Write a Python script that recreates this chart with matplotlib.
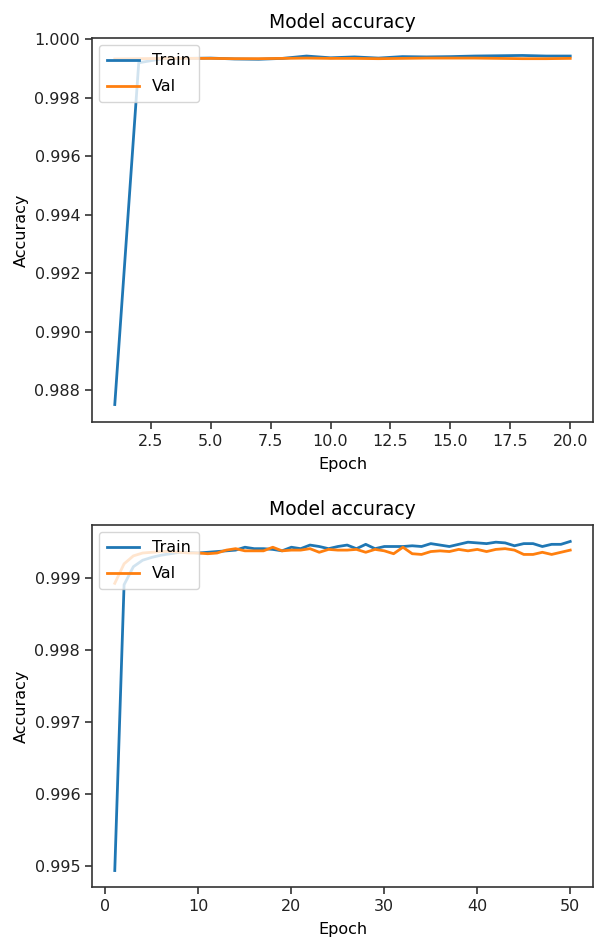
import matplotlib
matplotlib.use("Agg")
import matplotlib.pyplot as plt

# ---- data: run 1 (20 epochs) ----
epochs_a = list(range(1, 21))
train_a = [0.98752, 0.99920, 0.99934, 0.99935, 0.99936, 0.99933, 0.99932, 0.99935,
           0.99943, 0.99937, 0.99940, 0.99936, 0.99941, 0.99940, 0.99941, 0.99943,
           0.99944, 0.99945, 0.99943, 0.99943]
val_a = [0.99933, 0.99934, 0.99935, 0.99935, 0.99935, 0.99934, 0.99934, 0.99935,
         0.99936, 0.99935, 0.99935, 0.99934, 0.99935, 0.99936, 0.99936, 0.99936,
         0.99935, 0.99934, 0.99934, 0.99935]

# ---- data: run 2 (50 epochs) ----
epochs_b = list(range(1, 51))
train_b = [0.99494, 0.99890, 0.99915, 0.99924, 0.99928, 0.99931, 0.99933, 0.99935,
           0.99935, 0.99934, 0.99935, 0.99936, 0.99937, 0.99938, 0.99942, 0.99940,
           0.99940, 0.99939, 0.99937, 0.99942, 0.99940, 0.99945, 0.99943, 0.99940,
           0.99943, 0.99945, 0.99940, 0.99946, 0.99940, 0.99943, 0.99943, 0.99943,
           0.99944, 0.99943, 0.99947, 0.99945, 0.99943, 0.99946, 0.99949, 0.99948,
           0.99947, 0.99949, 0.99948, 0.99944, 0.99947, 0.99947, 0.99943, 0.99946,
           0.99946, 0.99950]
val_b = [0.99892, 0.99919, 0.99930, 0.99934, 0.99935, 0.99936, 0.99936, 0.99935,
         0.99934, 0.99934, 0.99933, 0.99934, 0.99938, 0.99940, 0.99937, 0.99937,
         0.99937, 0.99942, 0.99937, 0.99938, 0.99938, 0.99940, 0.99935, 0.99939,
         0.99938, 0.99938, 0.99939, 0.99935, 0.99939, 0.99937, 0.99933, 0.99942,
         0.99933, 0.99932, 0.99936, 0.99937, 0.99936, 0.99939, 0.99937, 0.99939,
         0.99936, 0.99939, 0.99940, 0.99938, 0.99932, 0.99932, 0.99935, 0.99932,
         0.99935, 0.99938]

title_text = "Model accuracy"
xlabel_text = "Epoch"
ylabel_text = "Accuracy"
legend_labels = ["Train", "Val"]

plt.rcParams['font.family'] = ['DejaVu Sans']

W, H = 597, 941
fig = plt.figure(figsize=(W / 100, H / 100), dpi=100)

ax1 = fig.add_axes([92 / W, 1 - 422 / H, 501 / W, 384 / H])
ax2 = fig.add_axes([92 / W, 1 - 887 / H, 501 / W, 362 / H])

for ax, ep, tr, va in [(ax1, epochs_a, train_a, val_a), (ax2, epochs_b, train_b, val_b)]:
    ax.plot(ep, tr, color='#1f77b4', lw=2.0, label=legend_labels[0])
    ax.plot(ep, va, color='#ff7f0e', lw=2.0, label=legend_labels[1])
    ax.set_title(title_text, fontsize=13.5, pad=7)
    ax.set_xlabel(xlabel_text, fontsize=11.5, labelpad=6)
    ax.set_ylabel(ylabel_text, fontsize=11.5, labelpad=4)
    ax.tick_params(labelsize=11.5, length=5, width=1.1, colors='#222222')
    for s in ax.spines.values():
        s.set_linewidth(1.2)
        s.set_color('#333333')
    leg = ax.legend(loc='upper left', fontsize=11.5, handlelength=2.0,
                    borderaxespad=0.45, borderpad=0.5, labelspacing=0.7,
                    framealpha=0.8)

ax1.set_yticks([0.988, 0.990, 0.992, 0.994, 0.996, 0.998, 1.000])
ax1.set_yticklabels(["0.988", "0.990", "0.992", "0.994", "0.996", "0.998", "1.000"])
ax1.set_xticks([2.5, 5.0, 7.5, 10.0, 12.5, 15.0, 17.5, 20.0])
ax1.set_xticklabels(["2.5", "5.0", "7.5", "10.0", "12.5", "15.0", "17.5", "20.0"])

ax2.set_yticks([0.995, 0.996, 0.997, 0.998, 0.999])
ax2.set_yticklabels(["0.995", "0.996", "0.997", "0.998", "0.999"])
ax2.set_xticks([0, 10, 20, 30, 40, 50])

fig.savefig("out.png", dpi=100)
